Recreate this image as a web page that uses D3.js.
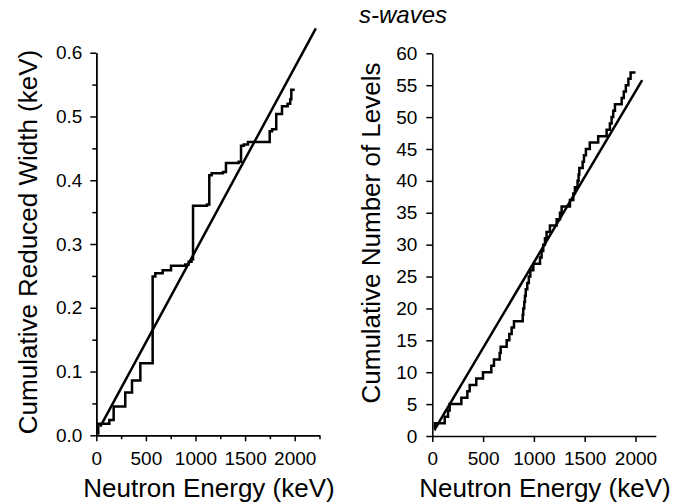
<!DOCTYPE html>
<html>
<head>
<meta charset="utf-8">
<script src="https://cdn.jsdelivr.net/npm/d3@7"></script>
<style>
  body { margin: 0; background: #fff; }
  svg { font-family: "Liberation Sans", Arial, sans-serif; }
</style>
</head>
<body>
<svg id="chart" width="684" height="504"></svg>
<script>
// left panel: cumulative reduced width (step after each energy)
var leftEnergy = [15, 20, 131, 175, 292, 360, 444, 568, 595, 669, 753, 897, 931, 960, 975, 1116, 1139, 1163, 1277, 1307, 1435, 1459, 1486, 1529, 1748, 1772, 1814, 1872, 1929, 1955, 1966, 2000];
var leftWidth = [0.003, 0.018, 0.024, 0.045, 0.067, 0.086, 0.113, 0.249, 0.254, 0.259, 0.266, 0.268, 0.272, 0.276, 0.360, 0.362, 0.408, 0.411, 0.413, 0.427, 0.429, 0.454, 0.456, 0.460, 0.477, 0.480, 0.504, 0.516, 0.520, 0.527, 0.542, 0.542];
var leftFitE = [40, 2213];
var leftFitW = [0.0135, 0.638];

// right panel: cumulative number of levels
var rightEnergy = [20, 25, 122, 155, 171, 286, 345, 368, 433, 499, 581, 607, 663, 673, 732, 758, 781, 804, 890, 895, 905, 912, 920, 935, 950, 965, 994, 1060, 1076, 1092, 1109, 1125, 1158, 1224, 1257, 1273, 1355, 1388, 1404, 1430, 1440, 1447, 1480, 1493, 1512, 1550, 1633, 1716, 1748, 1765, 1781, 1798, 1864, 1885, 1905, 1930, 1952, 2000];
var rightLevels = [1, 2, 3, 4, 5, 6, 7, 8, 9, 10, 11, 12, 13, 14, 15, 16, 17, 18, 19, 20, 21, 22, 23, 24, 25, 26, 27, 28, 29, 30, 31, 32, 33, 34, 35, 36, 37, 38, 39, 40, 41, 42, 43, 44, 45, 46, 47, 48, 49, 50, 51, 52, 53, 54, 55, 56, 57, 57];
var rightFitE = [30, 2066];
var rightFitN = [1.2, 55.8];

var energyTicks = [0, 500, 1000, 1500, 2000];
var energyMinor = [250, 750, 1250, 1750, 2250];
var widthTicks = [0, 0.1, 0.2, 0.3, 0.4, 0.5, 0.6];
var widthMinor = [0.05, 0.15, 0.25, 0.35, 0.45, 0.55];
var levelTicks = [0, 5, 10, 15, 20, 25, 30, 35, 40, 45, 50, 55, 60];

var svg = d3.select('#chart');

var xL = d3.scaleLinear().domain([0, 2250]).range([96.3, 319.5]);
var yL = d3.scaleLinear().domain([0, 0.6]).range([435.3, 52.7]);
var xR = d3.scaleLinear().domain([0, 2200]).range([432.3, 655.8]);
var yR = d3.scaleLinear().domain([0, 60]).range([436, 53.3]);

function styleAxis(g) {
    g.selectAll('path').attr('stroke', '#000').attr('stroke-width', 1.5);
    g.selectAll('line').attr('stroke', '#000').attr('stroke-width', 1.5);
    g.selectAll('text').attr('fill', '#000').style('font-size', '19px');
}

// left axes
svg.append('g')
    .attr('transform', 'translate(0,' + yL(0) + ')')
    .call(d3.axisBottom(xL).tickValues(energyMinor).tickFormat('').tickSize(4).tickSizeOuter(0))
    .call(styleAxis);
svg.append('g')
    .attr('transform', 'translate(0,' + yL(0) + ')')
    .call(d3.axisBottom(xL).tickValues(energyTicks).tickFormat(d3.format('d')).tickSize(6).tickPadding(10).tickSizeOuter(0))
    .call(styleAxis);
svg.append('g')
    .attr('transform', 'translate(' + xL(0) + ',0)')
    .call(d3.axisLeft(yL).tickValues(widthMinor).tickFormat('').tickSize(4).tickSizeOuter(0))
    .call(styleAxis);
svg.append('g')
    .attr('transform', 'translate(' + xL(0) + ',0)')
    .call(d3.axisLeft(yL).tickValues(widthTicks).tickFormat(d3.format('.1f')).tickSize(6).tickPadding(8).tickSizeOuter(0))
    .call(styleAxis);

// right axes
svg.append('g')
    .attr('transform', 'translate(0,' + yR(0) + ')')
    .call(d3.axisBottom(xR).tickValues(energyTicks).tickFormat(d3.format('d')).tickSize(6).tickPadding(10).tickSizeOuter(0))
    .call(styleAxis);
svg.append('g')
    .attr('transform', 'translate(' + xR(0) + ',0)')
    .call(d3.axisLeft(yR).tickValues(levelTicks).tickFormat(d3.format('d')).tickSize(6).tickPadding(9).tickSizeOuter(0))
    .call(styleAxis);

// staircases
var leftData = leftEnergy.map(function (e, i) { return [e, leftWidth[i]]; });
var rightData = rightEnergy.map(function (e, i) { return [e, rightLevels[i]]; });

svg.append('path')
    .datum(leftData)
    .attr('fill', 'none')
    .attr('stroke', '#000')
    .attr('stroke-width', 2.5)
    .attr('d', d3.line().curve(d3.curveStepAfter)
        .x(function (d) { return xL(d[0]); })
        .y(function (d) { return yL(d[1]); }));

svg.append('path')
    .datum(rightData)
    .attr('fill', 'none')
    .attr('stroke', '#000')
    .attr('stroke-width', 2.5)
    .attr('d', d3.line().curve(d3.curveStepAfter)
        .x(function (d) { return xR(d[0]); })
        .y(function (d) { return yR(d[1]); }));

// fit lines
svg.append('path')
    .datum(leftFitE.map(function (e, i) { return [e, leftFitW[i]]; }))
    .attr('fill', 'none')
    .attr('stroke', '#000')
    .attr('stroke-width', 2.5)
    .attr('d', d3.line()
        .x(function (d) { return xL(d[0]); })
        .y(function (d) { return yL(d[1]); }));

svg.append('path')
    .datum(rightFitE.map(function (e, i) { return [e, rightFitN[i]]; }))
    .attr('fill', 'none')
    .attr('stroke', '#000')
    .attr('stroke-width', 2.5)
    .attr('d', d3.line()
        .x(function (d) { return xR(d[0]); })
        .y(function (d) { return yR(d[1]); }));

// titles
svg.append('text')
    .attr('x', 403)
    .attr('y', 23)
    .attr('text-anchor', 'middle')
    .style('font-size', '24px')
    .style('font-style', 'italic')
    .text('s-waves');

svg.append('text')
    .attr('x', 209)
    .attr('y', 497)
    .attr('text-anchor', 'middle')
    .style('font-size', '26px')
    .text('Neutron Energy (keV)');

svg.append('text')
    .attr('x', 545)
    .attr('y', 497)
    .attr('text-anchor', 'middle')
    .style('font-size', '26px')
    .text('Neutron Energy (keV)');

svg.append('text')
    .attr('transform', 'translate(37,242) rotate(-90)')
    .attr('text-anchor', 'middle')
    .style('font-size', '26px')
    .text('Cumulative Reduced Width (keV)');

svg.append('text')
    .attr('transform', 'translate(380,233) rotate(-90)')
    .attr('text-anchor', 'middle')
    .style('font-size', '26px')
    .text('Cumulative Number of Levels');
</script>
</body>
</html>
